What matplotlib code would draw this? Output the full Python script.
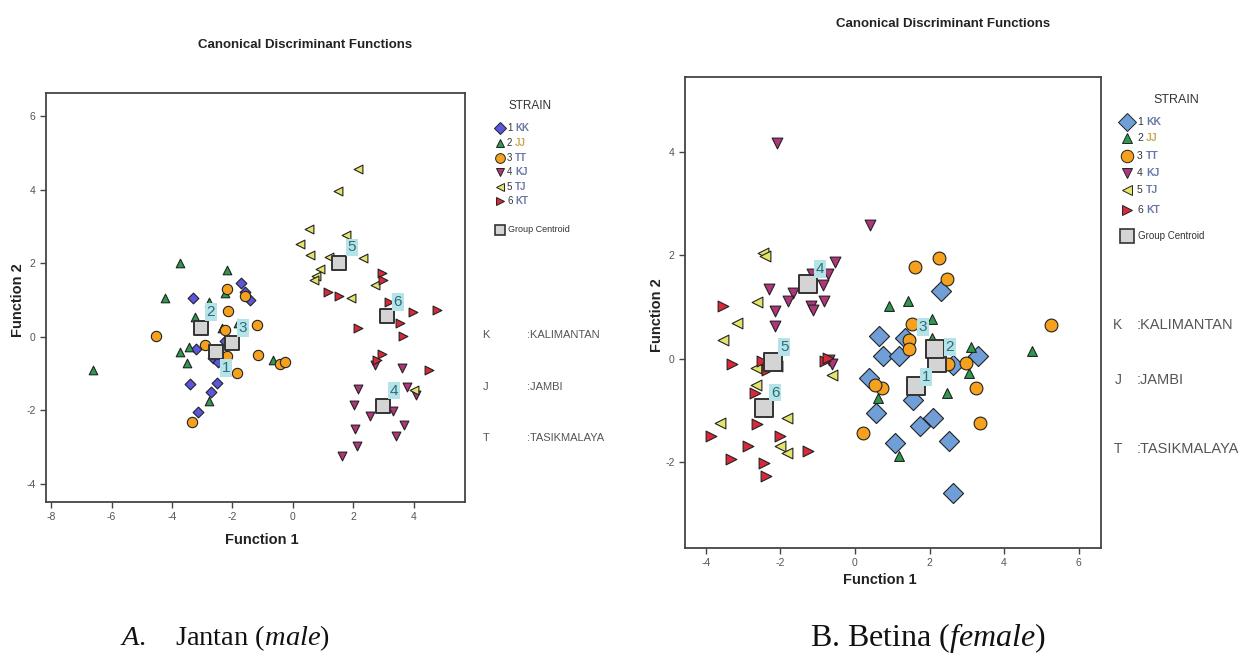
import matplotlib
matplotlib.use("Agg")
import matplotlib.pyplot as plt
from matplotlib.lines import Line2D

plt.rcParams['font.family'] = ['Liberation Sans', 'DejaVu Sans']
plt.rcParams['axes.unicode_minus'] = False
plt.rcParams['mathtext.fontset'] = 'custom'
plt.rcParams['mathtext.rm'] = 'Liberation Serif'
plt.rcParams['mathtext.it'] = 'Liberation Serif:italic'

# ---- data: A. Jantan (male) ----
male_kk_x = [-3.31, -1.71, -1.41, -3.2, -2.64, -2.47, -2.24, -3.4, -2.51, -2.7, -3.14, -1.58]
male_kk_y = [1.05, 1.47, 1.0, -0.34, -0.58, -0.69, -0.12, -1.29, -1.26, -1.51, -2.05, 1.22]
male_jj_x = [-3.75, -2.17, -4.23, -2.79, -3.24, -2.35, -1.8, -3.42, -3.75, -3.51, -0.64, -2.79, -2.24, -6.61]
male_jj_y = [2.02, 1.82, 1.05, 0.95, 0.54, 0.23, 0.37, -0.27, -0.41, -0.72, -0.62, -1.74, 1.18, -0.91]
male_tt_x = [-2.17, -1.58, -2.13, -1.17, -2.24, -4.53, -2.9, -2.17, -1.14, -0.42, -0.26, -1.85, -3.34]
male_tt_y = [1.29, 1.11, 0.71, 0.32, 0.18, 0.02, -0.23, -0.53, -0.5, -0.74, -0.68, -0.98, -2.32]
male_kj_x = [2.17, 2.03, 2.56, 2.06, 2.12, 1.62, 3.31, 3.69, 3.41, 3.61, 3.77, 4.08, 2.73]
male_kj_y = [-1.41, -1.86, -2.15, -2.51, -2.97, -3.24, -2.02, -2.41, -2.7, -0.86, -1.38, -1.59, -0.77]
male_tj_x = [2.17, 1.49, 0.55, 0.24, 0.57, 1.76, 1.21, 2.32, 0.9, 0.77, 0.71, 1.92, 2.73, 4.02]
male_tj_y = [4.56, 3.98, 2.93, 2.54, 2.23, 2.77, 2.16, 2.15, 1.84, 1.65, 1.56, 1.05, 1.41, -1.45]
male_kt_x = [1.15, 1.53, 2.95, 3.0, 3.17, 3.97, 4.77, 3.55, 3.64, 2.17, 2.95, 2.78, 4.52]
male_kt_y = [1.23, 1.12, 1.73, 1.54, 0.95, 0.68, 0.73, 0.38, 0.02, 0.25, -0.48, -0.62, -0.91]
male_cent_x = [-2.54, -3.04, -2.01, 2.98, 1.54, 3.11]
male_cent_y = [-0.42, 0.24, -0.17, -1.88, 2.02, 0.57]

# ---- data: B. Betina (female) ----
fem_kk_x = [2.32, 0.65, 1.34, 0.74, 1.19, 3.31, 2.64, 0.38, 1.56, 0.56, 2.1, 1.74, 1.07, 2.53, 2.62]
fem_kk_y = [1.32, 0.44, 0.41, 0.06, 0.06, 0.05, -0.13, -0.37, -0.79, -1.04, -1.14, -1.3, -1.62, -1.59, -2.59]
fem_jj_x = [0.92, 1.43, 2.06, 2.06, 3.1, 3.06, 2.46, 0.62, 1.19, 4.76]
fem_jj_y = [1.03, 1.11, 0.76, 0.41, 0.23, -0.28, -0.66, -0.75, -1.88, 0.15]
fem_tt_x = [1.61, 2.26, 2.46, 1.52, 1.46, 1.46, 2.5, 2.99, 3.26, 0.72, 0.54, 0.22, 3.35, 5.25]
fem_tt_y = [1.78, 1.95, 1.55, 0.68, 0.37, 0.19, -0.11, -0.09, -0.56, -0.56, -0.5, -1.44, -1.25, 0.66]
fem_kj_x = [-2.1, 0.4, -0.54, -0.72, -0.87, -1.16, -2.3, -1.65, -1.79, -0.83, -2.14, -1.19, -1.12, -2.14, -0.7, -0.62]
fem_kj_y = [4.18, 2.58, 1.87, 1.63, 1.42, 1.63, 1.35, 1.28, 1.11, 1.11, 0.92, 1.03, 0.95, 0.63, -0.03, -0.11]
fem_tj_x = [-2.47, -2.41, -2.62, -3.16, -3.53, -2.65, -2.1, -2.65, -3.62, -1.83, -2.01, -1.83, -0.62]
fem_tj_y = [2.05, 1.99, 1.09, 0.7, 0.36, -0.17, -0.14, -0.5, -1.24, -1.14, -1.69, -1.83, -0.32]
fem_kt_x = [-3.55, -3.31, -2.5, -2.35, -2.68, -2.62, -3.87, -2.86, -2.01, -1.25, -3.33, -2.44, -2.39, -0.8, -0.72]
fem_kt_y = [1.03, -0.11, -0.05, -0.21, -0.66, -1.27, -1.5, -1.69, -1.5, -1.79, -1.93, -2.01, -2.27, -0.05, 0.02]
fem_cent_x = [1.65, 2.21, 2.14, -1.25, -2.21, -2.44]
fem_cent_y = [-0.53, -0.08, 0.18, 1.44, -0.07, -0.95]

strain_codes = ['KK', 'JJ', 'TT', 'KJ', 'TJ', 'KT']
region_codes = ['K', 'J', 'T']
region_names = [':KALIMANTAN', ':JAMBI', ':TASIKMALAYA']

W, H = 1239, 656
fig = plt.figure(figsize=(W / 100, H / 100), dpi=100)


def fx(x):
    return x / W


def fy(y):
    return 1 - y / H


markers = ['D', '^', 'o', 'v', '<', '>']
male_colors = ['#5b55e0', '#2e9a4e', '#f5a11e', '#b0357a', '#e4e36a', '#d8283a']
fem_colors = ['#6f9fd6', '#2e9a4e', '#f5a11e', '#b0357a', '#e4e36a', '#d8283a']
male_sizes = [30, 38, 55, 40, 40, 40]
fem_sizes = [105, 50, 85, 60, 60, 60]


def panel(ax, xs, ys, cx, cy, colors, sizes, csize, offsets):
    for i in range(6):
        ax.scatter(xs[i], ys[i], marker=markers[i], s=sizes[i], c=colors[i],
                   edgecolors='#222222', linewidths=0.8, zorder=2)
    ax.scatter(cx, cy, marker='s', s=csize, c='#d4d4d4', edgecolors='#333333',
               linewidths=1.4, zorder=4)
    for i in range(6):
        ax.annotate(str(i + 1), (cx[i], cy[i]), xytext=offsets[i],
                    textcoords='offset points', ha='center', va='center',
                    fontsize=11, color='#2b6d78', zorder=5,
                    bbox=dict(boxstyle='square,pad=0.12', fc='#b5e3e8', ec='none'))
    for s in ax.spines.values():
        s.set_color('#444444')
        s.set_linewidth(1.3)
    ax.tick_params(direction='out', length=4, width=1, colors='#444444',
                   labelsize=7.5, labelcolor='#555555')


def legend(x0, ys, cy, msz, colors, fs, tx, dn, dc):
    fig.text(fx(tx), fy(ys[0] - 22), 'STRAIN', ha='center', va='center',
             fontsize=fs + 1.5, color='#333333')
    for i in range(6):
        fig.add_artist(Line2D([fx(x0)], [fy(ys[i])], transform=fig.transFigure,
                              marker=markers[i], markersize=msz[i], color=colors[i],
                              markeredgecolor='#222222', markeredgewidth=0.7, linestyle='none'))
        fig.text(fx(x0 + dn), fy(ys[i]), str(i + 1), va='center', fontsize=fs, color='#333333')
        fig.text(fx(x0 + dc), fy(ys[i]), strain_codes[i], va='center', fontsize=fs,
                 fontweight='bold', color='#c8aa55' if i == 1 else '#6a78a8')
    fig.add_artist(Line2D([fx(x0)], [fy(cy)], transform=fig.transFigure, marker='s',
                          markersize=msz[0] + 1, color='#d4d4d4', markeredgecolor='#333333',
                          markeredgewidth=1.2, linestyle='none'))
    fig.text(fx(x0 + dn + 1), fy(cy), 'Group Centroid', va='center', fontsize=fs - 0.5, color='#333333')


# ---- left panel ----
axL = fig.add_axes([fx(46), fy(502), 419 / W, 409 / H])
panel(axL,
      [male_kk_x, male_jj_x, male_tt_x, male_kj_x, male_tj_x, male_kt_x],
      [male_kk_y, male_jj_y, male_tt_y, male_kj_y, male_tj_y, male_kt_y],
      male_cent_x, male_cent_y, male_colors, male_sizes, 110,
      [(7, -11.5), (7, 11.5), (8, 11), (8, 11), (9, 11), (8, 10)])
axL.set_xlim(-8.17, 5.7)
axL.set_ylim(-4.5, 6.64)
axL.set_xticks(range(-8, 5, 2))
axL.set_yticks(range(-4, 7, 2))

# ---- right panel ----
axR = fig.add_axes([fx(685), fy(548), 416 / W, 471 / H])
panel(axR,
      [fem_kk_x, fem_jj_x, fem_tt_x, fem_kj_x, fem_tj_x, fem_kt_x],
      [fem_kk_y, fem_jj_y, fem_tt_y, fem_kj_y, fem_tj_y, fem_kt_y],
      fem_cent_x, fem_cent_y, fem_colors, fem_sizes, 170,
      [(7, 6.5), (9, 11.5), (-8.5, 16), (8.5, 11), (8.5, 11), (8, 11)])
axR.set_xlim(-4.56, 6.6)
axR.set_ylim(-3.66, 5.45)
axR.set_xticks(range(-4, 7, 2))
axR.set_yticks(range(-2, 5, 2))

# titles and axis labels
fig.text(fx(305), fy(45), 'Canonical Discriminant Functions', ha='center', va='center',
         fontsize=9.5, fontweight='bold', color='#222222')
fig.text(fx(943), fy(24), 'Canonical Discriminant Functions', ha='center', va='center',
         fontsize=9.5, fontweight='bold', color='#222222')
fig.text(fx(262), fy(540), 'Function 1', ha='center', va='center', fontsize=10.5,
         fontweight='bold', color='#222222')
fig.text(fx(880), fy(580), 'Function 1', ha='center', va='center', fontsize=10.5,
         fontweight='bold', color='#222222')
fig.text(fx(18), fy(300), 'Function 2', ha='center', va='center', fontsize=10.5,
         fontweight='bold', color='#222222', rotation=90)
fig.text(fx(657), fy(315), 'Function 2', ha='center', va='center', fontsize=10.5,
         fontweight='bold', color='#222222', rotation=90)

# legends
legend(500, [128, 143, 158, 172, 187, 201], 230, [6, 6, 7, 6, 6, 6], male_colors, 7, 530, 7, 15)
legend(1127, [122, 138, 156, 173, 190, 210], 236, [9, 7, 9, 7, 7, 7], fem_colors, 7.5, 1176, 10, 19)

# region keys
for i, yy in enumerate([335, 387, 438]):
    fig.text(fx(486), fy(yy), region_codes[i], ha='center', va='center', fontsize=8, color='#555555')
    fig.text(fx(527), fy(yy), region_names[i], va='center', fontsize=8, color='#555555')
for i, yy in enumerate([325, 380, 449]):
    fig.text(fx(1118), fy(yy), region_codes[i], ha='center', va='center', fontsize=10, color='#555555')
    fig.text(fx(1137), fy(yy), region_names[i], va='center', fontsize=10.5, color='#555555')

# captions
fig.text(fx(120), fy(638), r'$\mathit{A.}$', ha='left', va='center',
         fontsize=20.5, color='#111111')
fig.text(fx(175), fy(638), r'Jantan ($\mathit{male}$)', ha='left', va='center',
         fontsize=20.5, fontfamily='Liberation Serif', color='#111111')
fig.text(fx(810), fy(638), r'B. Betina ($\mathit{female}$)', ha='left', va='center',
         fontsize=23, fontfamily='Liberation Serif', color='#111111')

fig.savefig('out.png', dpi=100, facecolor='white')
